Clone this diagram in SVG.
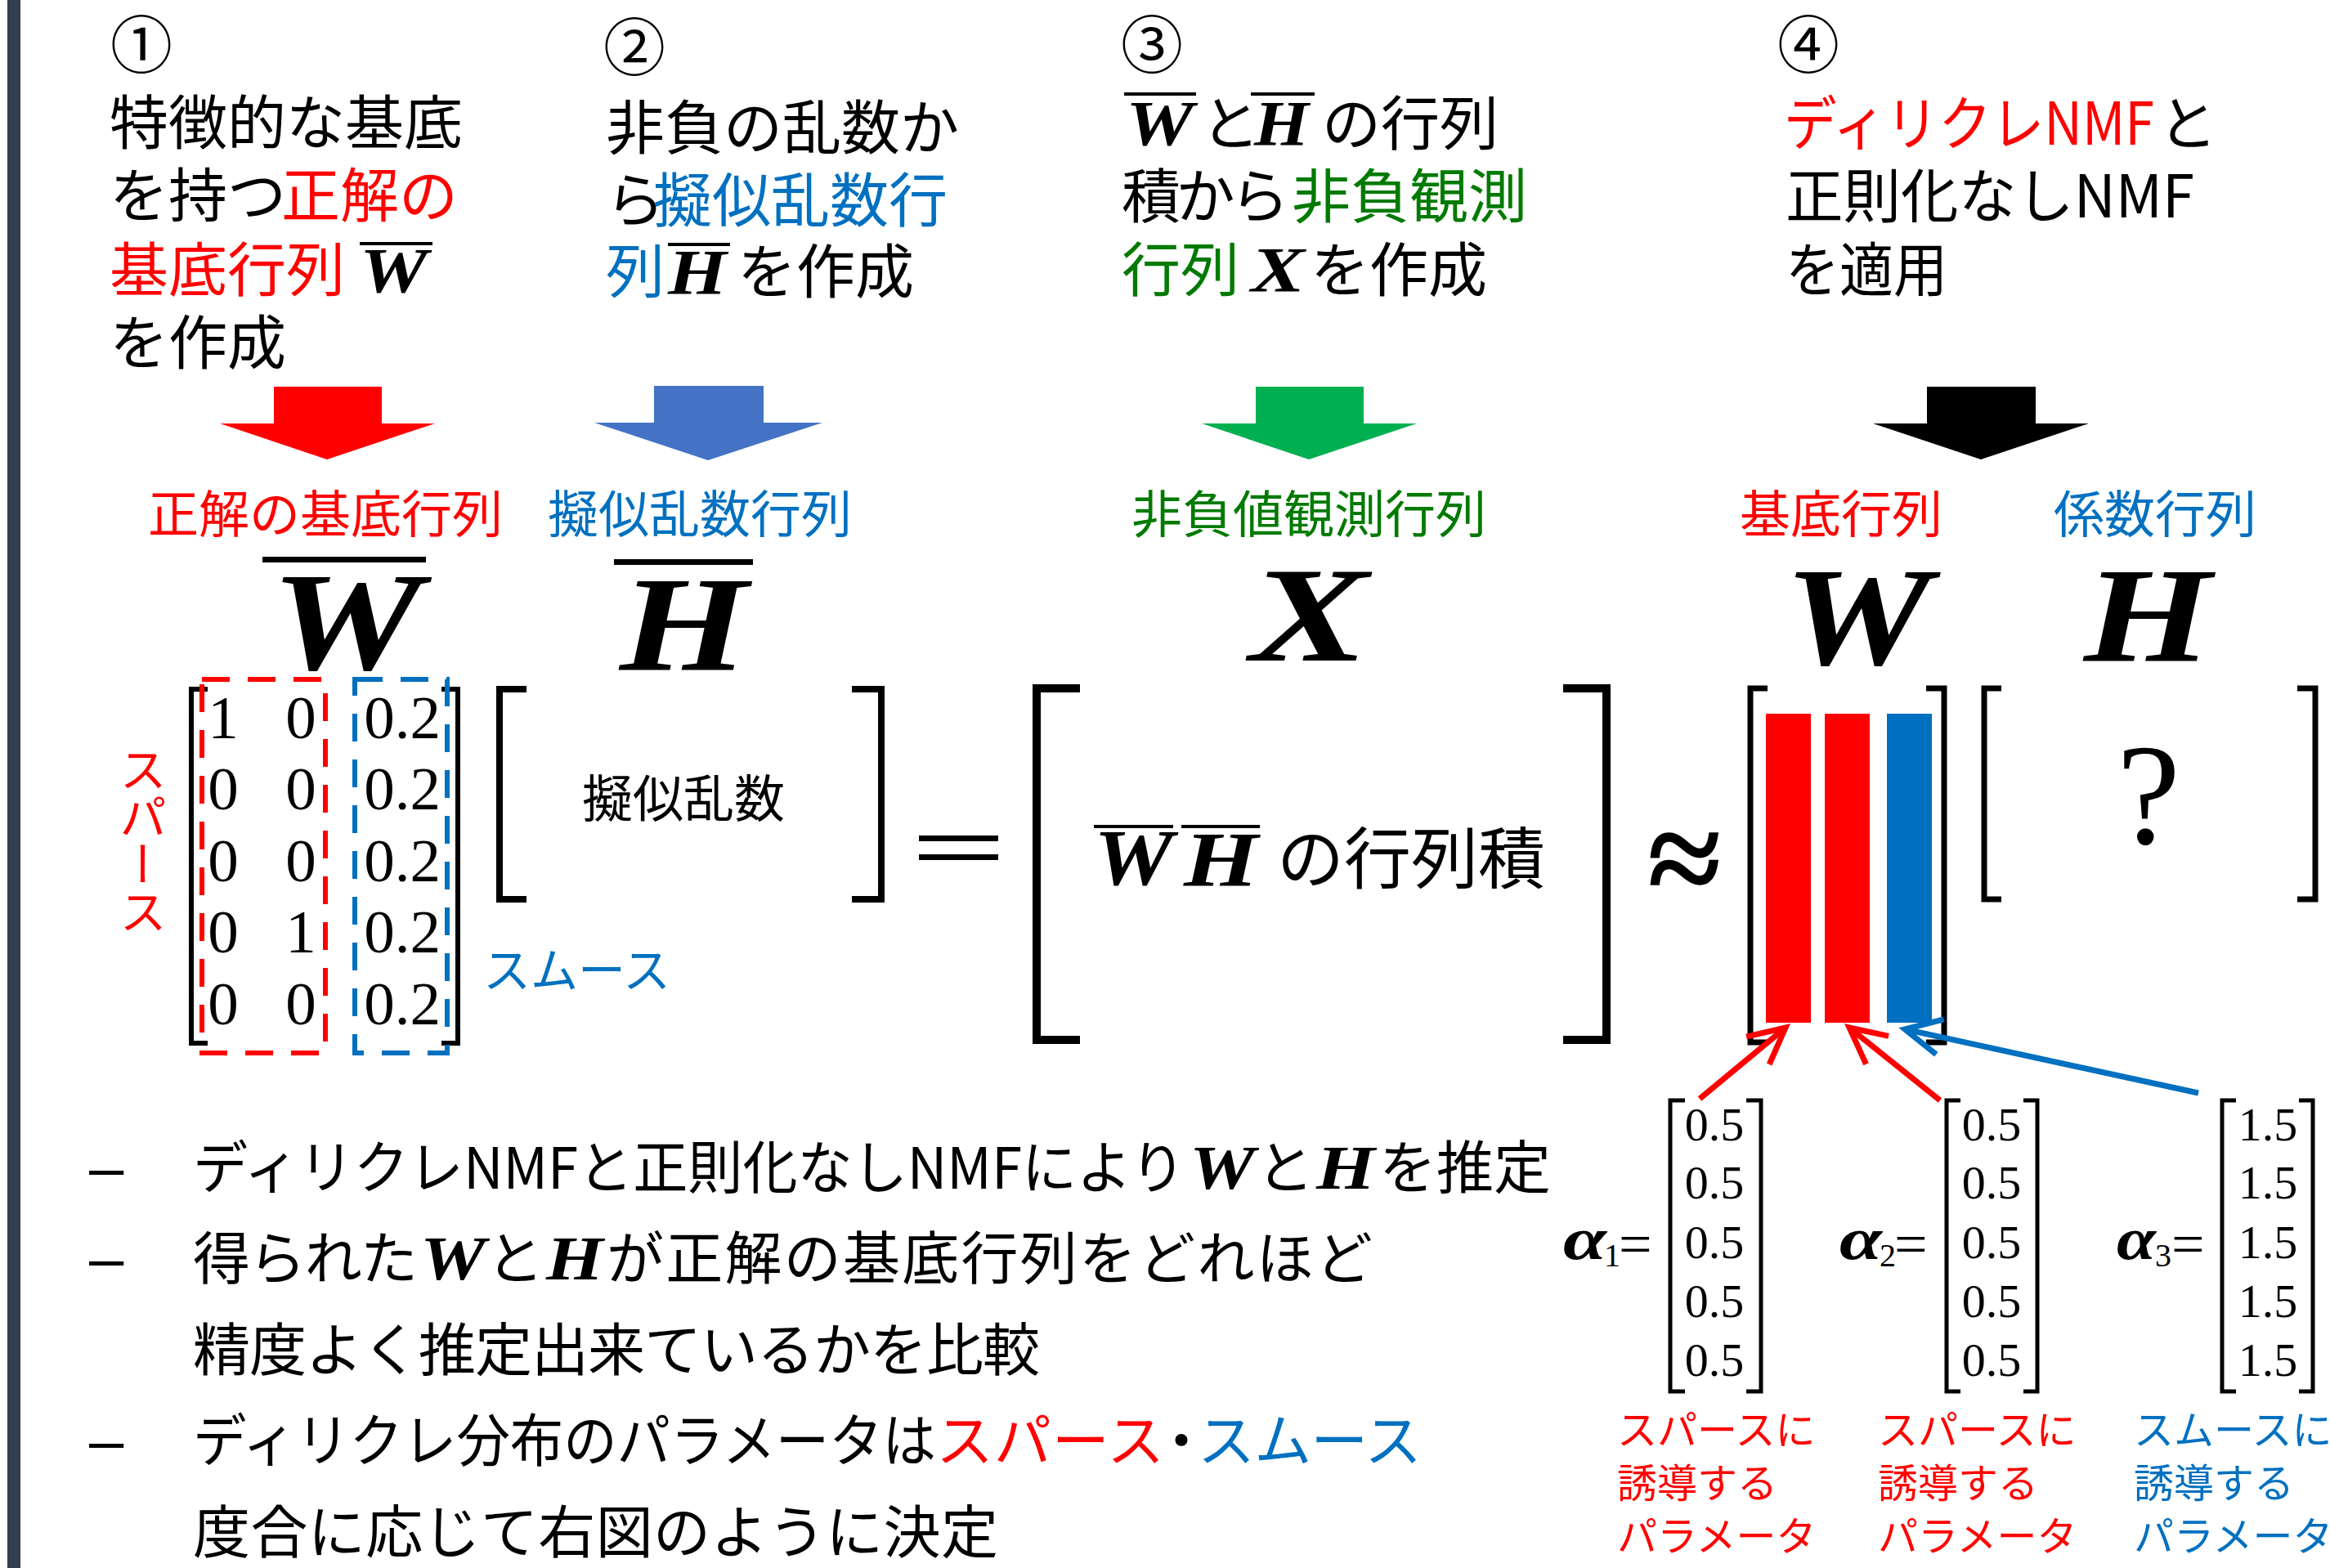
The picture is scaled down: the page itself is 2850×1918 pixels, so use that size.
<svg xmlns="http://www.w3.org/2000/svg" width="2850" height="1918" viewBox="0 0 2850 1918">
<style>
.jp{font-family:"Noto Sans CJK JP","Noto Sans",sans-serif;fill:#000}
.t72{font-size:72px}
.t62{font-size:62px}
.t70{font-size:70px}
.t49{font-size:49px}
.m{font-family:"Liberation Serif","DejaVu Serif",serif;font-style:italic;font-weight:bold;fill:#000}
.n{font-family:"Liberation Serif","DejaVu Serif",serif;fill:#000}
.red{fill:#ff0000}
.blue{fill:#0070c0}
.green{fill:#007a00}
.br{fill:none;stroke:#000;stroke-linecap:butt;stroke-linejoin:miter}
.bar{fill:#000}
.conn{fill:none;stroke-width:7}
</style>
<defs>
<marker id="openRed" viewBox="0 0 60 60" refX="52" refY="30" markerWidth="60" markerHeight="60" markerUnits="userSpaceOnUse" orient="auto">
<path d="M8,8 L52,30 L8,52" fill="none" stroke="#ff0000" stroke-width="7"/>
</marker>
<marker id="openBlue" viewBox="0 0 60 60" refX="52" refY="30" markerWidth="60" markerHeight="60" markerUnits="userSpaceOnUse" orient="auto">
<path d="M8,8 L52,30 L8,52" fill="none" stroke="#0070c0" stroke-width="7"/>
</marker>
</defs>
<rect x="0" y="0" width="2850" height="1918" fill="#ffffff"/>
<rect x="9" y="0" width="16" height="1918" fill="#333f50"/>

<g id="step1">
<text class="jp" x="135" y="83" font-size="76">①</text>
<text class="jp t72" x="134" y="176">特徴的な基底</text>
<text class="jp t72" x="134" y="265">を持つ<tspan class="red" x="344">正解の</tspan></text>
<text class="jp t72 red" x="134" y="356">基底行列</text>
<text class="m" x="440" y="357" font-size="78" textLength="83" lengthAdjust="spacingAndGlyphs">W</text>
<rect class="bar" x="440" y="296" width="89" height="4"/>
<text class="jp t72" x="134" y="445">を作成</text>
</g>

<g id="step2">
<text class="jp" x="738" y="86" font-size="76">②</text>
<text class="jp t72" x="741" y="182">非負の乱数か</text>
<text class="jp t72" x="741" y="271">ら<tspan class="blue" x="799">擬似乱数行</tspan></text>
<text class="jp t72 blue" x="741" y="358">列</text>
<text class="m" x="817" y="359" font-size="78" textLength="72" lengthAdjust="spacingAndGlyphs">H</text>
<rect class="bar" x="817" y="297" width="76" height="4"/>
<text class="jp t72" x="902" y="358">を作成</text>
</g>

<g id="step3">
<text class="jp" x="1371" y="83" font-size="76">③</text>
<text class="m" x="1377" y="177" font-size="78" textLength="83" lengthAdjust="spacingAndGlyphs">W</text>
<rect class="bar" x="1375" y="113" width="88" height="4"/>
<text class="jp t72" x="1469" y="177">と</text>
<text class="m" x="1534" y="177" font-size="78" textLength="67" lengthAdjust="spacingAndGlyphs">H</text>
<rect class="bar" x="1530" y="113" width="78" height="4"/>
<text class="jp t72" x="1617" y="177">の行列</text>
<text class="jp t72" x="1372" y="266" textLength="205">積から</text>
<text class="jp t72 green" x="1580" y="266">非負観測</text>
<text class="jp t72 green" x="1372" y="356">行列</text>
<text class="m" x="1530" y="356" font-size="78" textLength="66" lengthAdjust="spacingAndGlyphs">X</text>
<text class="jp t72" x="1603" y="356">を作成</text>
</g>

<g id="step4">
<text class="jp" x="2174" y="83" font-size="76">④</text>
<text class="jp t72 red" x="2182" y="177" textLength="453" lengthAdjust="spacingAndGlyphs">ディリクレNMF</text>
<text class="jp t72" x="2640" y="177">と</text>
<text class="jp t72" x="2184" y="266" textLength="500" lengthAdjust="spacingAndGlyphs">正則化なしNMF</text>
<text class="jp t72" x="2184" y="356" textLength="198" lengthAdjust="spacingAndGlyphs">を適用</text>
</g>

<g id="block-arrows">
<polygon points="335,473 467,473 467,518 532,518 400,562 269,518 335,518" fill="#ff0000"/>
<polygon points="800,472 934,472 934,517 1006,517 866,563 727,517 800,517" fill="#4472c4"/>
<polygon points="1536,473 1668,473 1668,518 1733,518 1601,562 1470,518 1536,518" fill="#00b050"/>
<polygon points="2357,473 2490,473 2490,518 2555,518 2423,562 2291,518 2357,518" fill="#000000"/>
</g>

<g id="labels">
<text class="jp t62 red" x="181" y="652">正解の基底行列</text>
<text class="jp t62 blue" x="670" y="652">擬似乱数行列</text>
<text class="jp t62 green" x="1384" y="652">非負値観測行列</text>
<text class="jp t62 red" x="2128" y="652">基底行列</text>
<text class="jp t62 blue" x="2512" y="652">係数行列</text>
</g>

<g id="symbols">
<text class="m" x="331" y="818" font-size="171" textLength="185" lengthAdjust="spacingAndGlyphs">W</text>
<rect class="bar" x="321" y="681" width="200" height="7"/>
<text class="m" x="758" y="819" font-size="165" textLength="157" lengthAdjust="spacingAndGlyphs">H</text>
<rect class="bar" x="751" y="684" width="170" height="7"/>
<text class="m" x="1529" y="808" font-size="166" textLength="145" lengthAdjust="spacingAndGlyphs">X</text>
<text class="m" x="2182" y="812" font-size="172" textLength="180" lengthAdjust="spacingAndGlyphs">W</text>
<text class="m" x="2549" y="808" font-size="166" textLength="156" lengthAdjust="spacingAndGlyphs">H</text>
</g>

<g id="matrix-Wbar">
<path class="br" d="M254,843 H234 V1276 H254" stroke-width="6"/>
<path class="br" d="M540,843 H560 V1276 H540" stroke-width="6"/>
<g class="n" font-size="75" text-anchor="middle">
<text x="273" y="903">1</text><text x="368" y="903">0</text><text x="492" y="903">0.2</text>
<text x="273" y="990">0</text><text x="368" y="990">0</text><text x="492" y="990">0.2</text>
<text x="273" y="1078">0</text><text x="368" y="1078">0</text><text x="492" y="1078">0.2</text>
<text x="273" y="1165">0</text><text x="368" y="1165">1</text><text x="492" y="1165">0.2</text>
<text x="273" y="1253">0</text><text x="368" y="1253">0</text><text x="492" y="1253">0.2</text>
</g>
<rect x="247" y="831" width="151" height="457" fill="none" stroke="#ff0000" stroke-width="6" stroke-dasharray="34 22"/>
<rect x="434" y="831" width="113" height="457" fill="none" stroke="#0070c0" stroke-width="6" stroke-dasharray="34 22"/>
<text class="jp red" x="175" y="912" font-size="58" style="writing-mode:vertical-rl">スパース</text>
<text class="jp blue" x="591" y="1208" font-size="58">スムース</text>
</g>

<g id="matrix-Hbar">
<path class="br" d="M644,843 H611 V1100 H644" stroke-width="8"/>
<path class="br" d="M1042,843 H1078 V1100 H1042" stroke-width="8"/>
<text class="jp t62" x="836" y="1000" text-anchor="middle">擬似乱数</text>
</g>

<g id="equals">
<rect class="bar" x="1124" y="1022" width="97" height="7"/>
<rect class="bar" x="1124" y="1045" width="97" height="7"/>
</g>

<g id="matrix-X">
<path class="br" d="M1321,842 H1268 V1272 H1321" stroke-width="10"/>
<path class="br" d="M1912,842 H1965 V1272 H1912" stroke-width="10"/>
<text class="m" x="1338" y="1082" font-size="97" textLength="97" lengthAdjust="spacingAndGlyphs">W</text>
<rect class="bar" x="1338" y="1009" width="97" height="4"/>
<text class="m" x="1448" y="1084" font-size="95" textLength="91" lengthAdjust="spacingAndGlyphs">H</text>
<rect class="bar" x="1445" y="1009" width="96" height="4"/>
<text class="jp" x="1562" y="1080" font-size="82">の行列積</text>
</g>

<g id="approx">
<text class="n" x="2015" y="1106" font-size="165" font-weight="bold">≈</text>
</g>

<g id="matrix-W">
<path class="br" d="M2162,842 H2141 V1275 H2162" stroke-width="7"/>
<path class="br" d="M2356,842 H2378 V1275 H2356" stroke-width="7"/>
<rect x="2160" y="873" width="55" height="378" fill="#ff0000"/>
<rect x="2232" y="873" width="55" height="378" fill="#ff0000"/>
<rect x="2308" y="873" width="55" height="378" fill="#0070c0"/>
</g>

<g id="matrix-H">
<path class="br" d="M2448,842 H2427 V1100 H2448" stroke-width="7"/>
<path class="br" d="M2810,842 H2832 V1100 H2810" stroke-width="7"/>
<text class="n" x="2628" y="1032" font-size="175" text-anchor="middle">?</text>
</g>

<g id="connectors">
<line class="conn" x1="2079" y1="1344" x2="2184" y2="1257" stroke="#ff0000" marker-end="url(#openRed)"/>
<line class="conn" x1="2373" y1="1346" x2="2262" y2="1257" stroke="#ff0000" marker-end="url(#openRed)"/>
<line class="conn" x1="2689" y1="1337" x2="2330" y2="1259" stroke="#0070c0" marker-end="url(#openBlue)"/>
</g>

<g id="alpha1">
<text class="m" x="1912" y="1540" font-size="74" textLength="53" lengthAdjust="spacingAndGlyphs">α</text>
<text class="n" x="1962" y="1549" font-size="40">1</text>
<text class="n" x="1980" y="1546" font-size="72">=</text>
<path class="br" d="M2061,1346 H2043 V1702 H2061" stroke-width="5"/>
<path class="br" d="M2136,1346 H2154 V1702 H2136" stroke-width="5"/>
<g class="n" font-size="58" text-anchor="middle">
<text x="2097" y="1395">0.5</text><text x="2097" y="1466">0.5</text><text x="2097" y="1539">0.5</text><text x="2097" y="1611">0.5</text><text x="2097" y="1683">0.5</text>
</g>
<text class="jp t49 red" x="1978" y="1767">スパースに</text>
<text class="jp t49 red" x="1978" y="1832">誘導する</text>
<text class="jp t49 red" x="1978" y="1897">パラメータ</text>
</g>

<g id="alpha2">
<text class="m" x="2250" y="1540" font-size="74" textLength="52" lengthAdjust="spacingAndGlyphs">α</text>
<text class="n" x="2299" y="1549" font-size="40">2</text>
<text class="n" x="2317" y="1546" font-size="72">=</text>
<path class="br" d="M2398,1346 H2381 V1702 H2398" stroke-width="5"/>
<path class="br" d="M2475,1346 H2492 V1702 H2475" stroke-width="5"/>
<g class="n" font-size="58" text-anchor="middle">
<text x="2436" y="1395">0.5</text><text x="2436" y="1466">0.5</text><text x="2436" y="1539">0.5</text><text x="2436" y="1611">0.5</text><text x="2436" y="1683">0.5</text>
</g>
<text class="jp t49 red" x="2297" y="1767">スパースに</text>
<text class="jp t49 red" x="2297" y="1832">誘導する</text>
<text class="jp t49 red" x="2297" y="1897">パラメータ</text>
</g>

<g id="alpha3">
<text class="m" x="2589" y="1540" font-size="74" textLength="48" lengthAdjust="spacingAndGlyphs">α</text>
<text class="n" x="2636" y="1549" font-size="40">3</text>
<text class="n" x="2656" y="1546" font-size="72">=</text>
<path class="br" d="M2735,1346 H2718 V1702 H2735" stroke-width="5"/>
<path class="br" d="M2812,1346 H2829 V1702 H2812" stroke-width="5"/>
<g class="n" font-size="58" text-anchor="middle">
<text x="2774" y="1395">1.5</text><text x="2774" y="1466">1.5</text><text x="2774" y="1539">1.5</text><text x="2774" y="1611">1.5</text><text x="2774" y="1683">1.5</text>
</g>
<text class="jp t49 blue" x="2610" y="1767">スムースに</text>
<text class="jp t49 blue" x="2610" y="1832">誘導する</text>
<text class="jp t49 blue" x="2610" y="1897">パラメータ</text>
</g>

<g id="bullets">
<g font-family="Liberation Sans, sans-serif" font-size="76" fill="#000">
<text x="109" y="1454">–</text>
<text x="109" y="1565">–</text>
<text x="109" y="1788">–</text>
</g>
<text class="jp t70" x="236" y="1454" textLength="1214" lengthAdjust="spacingAndGlyphs">ディリクレNMFと正則化なしNMFにより</text>
<text class="m" x="1455" y="1454" font-size="76" textLength="80" lengthAdjust="spacingAndGlyphs">W</text>
<text class="jp t70" x="1537" y="1454">と</text>
<text class="m" x="1610" y="1454" font-size="76" textLength="72" lengthAdjust="spacingAndGlyphs">H</text>
<text class="jp t70" x="1687" y="1454">を推定</text>

<text class="jp t70" x="236" y="1565" textLength="275">得られた</text>
<text class="m" x="514" y="1565" font-size="76" textLength="80" lengthAdjust="spacingAndGlyphs">W</text>
<text class="jp t70" x="595" y="1565">と</text>
<text class="m" x="668" y="1565" font-size="76" textLength="70" lengthAdjust="spacingAndGlyphs">H</text>
<text class="jp t70" x="742" y="1565" textLength="937">が正解の基底行列をどれほど</text>

<text class="jp t70" x="236" y="1677" textLength="1036">精度よく推定出来ているかを比較</text>

<text class="jp t70" x="236" y="1788" textLength="909" lengthAdjust="spacingAndGlyphs">ディリクレ分布のパラメータは</text>
<text class="jp t70 red" x="1145" y="1788" textLength="279">スパース</text>
<text class="jp t70" x="1410" y="1788">・</text>
<text class="jp t70 blue" x="1465" y="1788" textLength="274">スムース</text>

<text class="jp t70" x="236" y="1900" textLength="985">度合に応じて右図のように決定</text>
</g>
</svg>
